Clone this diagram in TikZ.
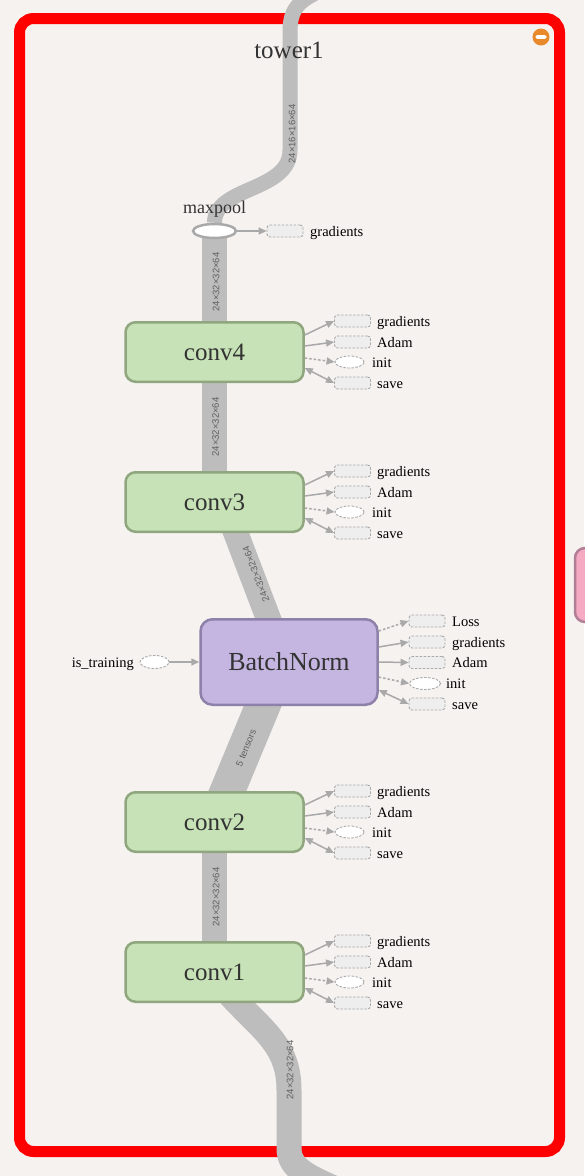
\documentclass[tikz,border=0pt]{standalone}
\usepackage{fontspec}
\setmainfont{Liberation Serif}
\newfontfamily\edgefont{Liberation Sans}
\usetikzlibrary{arrows.meta,shapes.geometric}
\definecolor{bgc}{HTML}{F6F2F0}
\definecolor{framered}{HTML}{FF0000}
\definecolor{edgegray}{HTML}{BDBDBD}
\definecolor{convfill}{HTML}{C7E2B6}
\definecolor{convdraw}{HTML}{8FA67E}
\definecolor{bnfill}{HTML}{C5B6E1}
\definecolor{bndraw}{HTML}{8E81A9}
\definecolor{pinkfill}{HTML}{F5A9C3}
\definecolor{pinkdraw}{HTML}{B27E95}
\definecolor{auxfill}{HTML}{EEEEEE}
\definecolor{auxdraw}{HTML}{A9A9A9}
\definecolor{arrowgray}{HTML}{A9A9A9}
\definecolor{nodetext}{HTML}{333333}
\definecolor{edgetext}{HTML}{606060}
\definecolor{iconorange}{HTML}{E8892B}
\pgfdeclarelayer{framelayer}
\pgfdeclarelayer{edgelayer}
\pgfsetlayers{framelayer,edgelayer,main}
\begin{document}
\begin{tikzpicture}[x=1pt,y=-1pt,
  convnode/.style={draw=convdraw,fill=convfill,line width=2.5pt,rounded corners=10pt,
    minimum width=178pt,minimum height=59.5pt,inner sep=0,text=nodetext,
    font=\fontsize{25}{30}\selectfont},
  bnnode/.style={draw=bndraw,fill=bnfill,line width=2.5pt,rounded corners=12pt,
    minimum width=177pt,minimum height=85.5pt,inner sep=0,text=nodetext,
    font=\fontsize{26}{30}\selectfont},
  pinknode/.style={draw=pinkdraw,fill=pinkfill,line width=2.5pt,rounded corners=10pt,
    minimum width=90pt,minimum height=74pt,inner sep=0},
  auxbox/.style={draw=auxdraw,fill=auxfill,line width=0.9pt,dash pattern=on 2.5pt off 1.5pt,
    rounded corners=3pt,minimum width=36pt,minimum height=12pt,inner sep=0},
  auxell/.style={ellipse,draw=auxdraw,fill=white,line width=0.9pt,dash pattern=on 2.5pt off 1.5pt,
    minimum width=29pt,minimum height=12pt,inner sep=0},
  sidelbl/.style={font=\fontsize{14.5}{16}\selectfont,text=black,inner sep=0,anchor=base west},
  elbl/.style={font=\edgefont\fontsize{9.5}{10}\selectfont,text=edgetext,inner sep=0},
  dataedge/.style={draw=edgegray,line width=25pt},
  auxarrow/.style={draw=arrowgray,line width=1.5pt,-{Triangle[length=8pt,width=7pt]}},
  auxdotted/.style={auxarrow,dash pattern=on 2.5pt off 2pt},
  auxboth/.style={draw=arrowgray,line width=1.5pt,{Triangle[length=8pt,width=7pt]}-{Triangle[length=8pt,width=7pt]}}
]
\useasboundingbox (0,0) rectangle (584,1176);
\begin{pgfonlayer}{framelayer}
  \fill[bgc] (0,0) rectangle (584,1176);
  \draw[framered,line width=11pt,rounded corners=14pt] (19.5,18.5) rectangle (559.5,1151.5);
\end{pgfonlayer}

% outside node
\node[pinknode] (pink) at (620,585) {};

% collapse icon
\node[circle,fill=iconorange,minimum size=17pt,inner sep=0] (collapse) at (541,37) {};
\fill[white,rounded corners=1.5pt] ([xshift=-5.5pt,yshift=-1.8pt]collapse.center) rectangle ([xshift=5.5pt,yshift=1.8pt]collapse.center);

% title
\node[font=\fontsize{25}{30}\selectfont,text=nodetext,inner sep=0] (title) at (289,50) {tower1};

% maxpool
\node[ellipse,draw=auxdraw,fill=white,line width=2.5pt,minimum width=43pt,minimum height=14pt,inner sep=0] (maxpool) at (214.5,231) {};
\node[font=\fontsize{18}{20}\selectfont,text=nodetext,inner sep=0,anchor=base] (maxpoollbl) at (214.5,213) {maxpool};
\node[auxbox] (mpg) at (285,231) {};
\node[sidelbl] (mpgl) at (310,236) {gradients};
\draw[auxarrow] (maxpool.east) -- (mpg.west);

% main op nodes
\node[convnode] (conv4) at (214.5,352) {conv4};
\node[convnode] (conv3) at (214.5,502) {conv3};
\node[bnnode] (BN) at (289,662) {BatchNorm};
\node[convnode] (conv2) at (214.5,822) {conv2};
\node[convnode] (conv1) at (214.5,972) {conv1};

% is_training
\node[auxell,minimum width=29pt,minimum height=13pt] (istr) at (154.5,662) {};
\node[font=\fontsize{14.5}{16}\selectfont,text=black,inner sep=0,anchor=base east] (istrl) at (134,667) {is\_training};
\draw[auxarrow] (istr.east) -- (BN.west);

% side groups of conv nodes
\foreach \n/\cy in {conv4/352,conv3/502,conv2/822,conv1/972}{
  \node[auxbox] (\n-g) at (352.5,{\cy-31}) {};
  \node[auxbox] (\n-a) at (352.5,{\cy-10}) {};
  \node[auxell] (\n-i) at (349.5,{\cy+10}) {};
  \node[auxbox] (\n-s) at (352.5,{\cy+31}) {};
  \node[sidelbl] (\n-gl) at (377,{\cy-26}) {gradients};
  \node[sidelbl] (\n-al) at (377,{\cy-5}) {Adam};
  \node[sidelbl] (\n-il) at (372,{\cy+15}) {init};
  \node[sidelbl] (\n-sl) at (377,{\cy+36}) {save};
  \draw[auxarrow] ([yshift=17pt]\n.east) -- (\n-g.west);
  \draw[auxarrow] ([yshift=6pt]\n.east) -- (\n-a.west);
  \draw[auxdotted] ([yshift=-6pt]\n.east) -- (\n-i.west);
  \draw[auxboth] ([yshift=-16pt]\n.east) -- (\n-s.west);
}

% side group of BatchNorm
\node[auxbox] (BN-l) at (427,621) {};
\node[auxbox] (BN-g) at (427,642) {};
\node[auxbox] (BN-a) at (427,662.5) {};
\node[auxell,minimum width=31pt] (BN-i) at (425,683.5) {};
\node[auxbox] (BN-s) at (427,704) {};
\node[sidelbl] (BN-ll) at (452,626) {Loss};
\node[sidelbl] (BN-gl) at (452,647) {gradients};
\node[sidelbl] (BN-al) at (452,667.5) {Adam};
\node[sidelbl] (BN-il) at (446,688.5) {init};
\node[sidelbl] (BN-sl) at (452,709) {save};
\draw[auxdotted] ([yshift=31pt]BN.east) -- (BN-l.west);
\draw[auxarrow] ([yshift=15pt]BN.east) -- (BN-g.west);
\draw[auxarrow] (BN.east) -- (BN-a.west);
\draw[auxdotted] ([yshift=-15pt]BN.east) -- (BN-i.west);
\draw[auxboth] ([yshift=-28pt]BN.east) -- (BN-s.west);

% data edges
\coordinate (topin) at (338,-16);
\coordinate (botout) at (348,1194);
\begin{pgfonlayer}{edgelayer}
  \draw[dataedge,line width=15pt] (topin) .. controls (298,-2) and (290,8) .. (290,32) -- (290,150)
     .. controls (290,192) and (214.5,186) .. (maxpool.north);
  \draw[dataedge] (maxpool.center) -- (conv4.center);
  \draw[dataedge] (conv4.center) -- (conv3.center);
  \draw[dataedge] ([xshift=9.5pt]conv3.center) -- ([xshift=-4pt]BN.center);
  \draw[dataedge,line width=35pt] ([xshift=-8pt]BN.center) -- (conv2.center);
  \draw[dataedge] (conv2.center) -- (conv1.center);
  \draw[dataedge] ([xshift=15.5pt,yshift=-23pt]conv1.center) .. controls (262,1030) and (289,1045) .. (289,1090)
     -- (289,1148) .. controls (289,1168) and (305,1176) .. (botout);
\end{pgfonlayer}

% edge labels
\node[elbl,rotate=90] (e0) at (292,134) {24×16×16×64};
\node[elbl,rotate=90] (e1) at (216,282) {24×32×32×64};
\node[elbl,rotate=90] (e2) at (215.5,427) {24×32×32×64};
\node[elbl,rotate=110.9] (e3) at (256,574) {24×32×32×64};
\node[elbl,rotate=67.6] (e4) at (246,748) {5 tensors};
\node[elbl,rotate=90] (e5) at (216,897) {24×32×32×64};
\node[elbl,rotate=90] (e6) at (290,1070) {24×32×32×64};
\end{tikzpicture}
\end{document}
